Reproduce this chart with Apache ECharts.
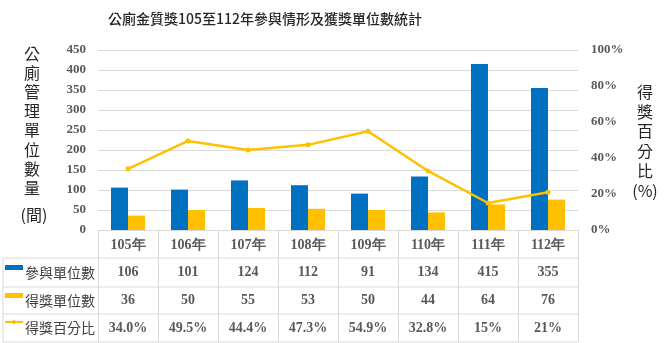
<!DOCTYPE html>
<html>
<head>
<meta charset="utf-8">
<script src="https://cdn.jsdelivr.net/npm/echarts@6/dist/echarts.min.js"></script>
<style>html,body{margin:0;padding:0;background:#fff}#c{width:668px;height:343px}</style>
</head>
<body>
<div id="c"></div>
<script>
const titleText = '公廁金質獎105至112年參與情形及獲獎單位數統計';
const categories = ['105年','106年','107年','108年','109年','110年','111年','112年'];
const participants = [106,101,124,112,91,134,415,355];
const winners = [36,50,55,53,50,44,64,76];
const winRate = [34.0,49.5,44.4,47.3,54.9,32.8,15,21];
const rateLabels = ['34.0%','49.5%','44.4%','47.3%','54.9%','32.8%','15%','21%'];
const seriesNames = ['參與單位數','得獎單位數','得獎百分比'];
const leftAxisTitle = ['公','廁','管','理','單','位','數','量'];
const leftAxisUnit = '(間)';
const rightAxisTitle = ['得','獎','百','分','比','(%)'];

const BLUE = '#0070C0', GOLD = '#FFC000', GRID = '#d9d9d9', TXT = '#595959';
const SERIF = 'Liberation Serif';
const SANS = '"Noto Sans CJK TC","Noto Sans",sans-serif';

const chart = echarts.init(document.getElementById('c'));
chart.setOption({
  animation: false,
  grid: {left: 98, right: 90, top: 50, bottom: 113},
  xAxis: {
    type: 'category', data: categories,
    axisLine: {lineStyle: {color: GRID}},
    axisTick: {show: true, length: 112, interval: 0, lineStyle: {color: GRID}},
    axisLabel: {interval: 0, margin: 8, color: TXT, fontFamily: SERIF, fontWeight: 'bold', fontSize: 14}
  },
  yAxis: [
    {type: 'value', min: 0, max: 450, interval: 50,
     axisLine: {show: false}, axisTick: {show: false},
     splitLine: {lineStyle: {color: GRID}},
     axisLabel: {margin: 12, color: TXT, fontFamily: SERIF, fontWeight: 'bold', fontSize: 13}},
    {type: 'value', min: 0, max: 100, interval: 20,
     axisLine: {show: false}, axisTick: {show: false}, splitLine: {show: false},
     axisLabel: {margin: 13, formatter: '{value}%', color: TXT, fontFamily: SERIF, fontWeight: 'bold', fontSize: 13}}
  ],
  series: [
    {name: seriesNames[0], type: 'bar', data: participants, barWidth: 17, barGap: '0%', itemStyle: {color: BLUE}},
    {name: seriesNames[1], type: 'bar', data: winners, barWidth: 17, itemStyle: {color: GOLD}},
    {name: seriesNames[2], type: 'line', yAxisIndex: 1, data: winRate, symbol: 'circle', symbolSize: 5,
     lineStyle: {color: GOLD, width: 2.5}, itemStyle: {color: GOLD}}
  ]
});

const rowsY = [258, 287, 314, 342];
const rowCenters = [272.5, 300.5, 328];
const tableLeft = 3, tableRight = 578;
const g = [];
g.push({type: 'text', x: 265, y: 19, style: {text: titleText, textAlign: 'center', textVerticalAlign: 'middle', fill: '#262626', font: '500 14px ' + SANS}});
rowsY.forEach(y => g.push({type: 'line', shape: {x1: tableLeft, y1: y, x2: tableRight, y2: y}, style: {stroke: GRID, lineWidth: 1}}));
g.push({type: 'line', shape: {x1: tableLeft, y1: rowsY[0], x2: tableLeft, y2: rowsY[3]}, style: {stroke: GRID, lineWidth: 1}});
const rowData = [participants.map(String), winners.map(String), rateLabels];
rowData.forEach((row, r) => {
  row.forEach((v, i) => {
    const x = chart.convertToPixel({xAxisIndex: 0}, i);
    g.push({type: 'text', x: x, y: rowCenters[r], style: {text: v, textAlign: 'center', textVerticalAlign: 'middle', fill: TXT, font: 'bold 14px "Liberation Serif"'}});
  });
  g.push({type: 'text', x: 25, y: rowCenters[r], style: {text: seriesNames[r], textAlign: 'left', textVerticalAlign: 'middle', fill: '#404040', font: 'normal 14px ' + SANS}});
});
g.push({type: 'rect', shape: {x: 5, y: 265, width: 18, height: 5}, style: {fill: BLUE}});
g.push({type: 'rect', shape: {x: 5, y: 293, width: 18, height: 5}, style: {fill: GOLD}});
g.push({type: 'line', shape: {x1: 5, y1: 322, x2: 23, y2: 322}, style: {stroke: GOLD, lineWidth: 2}});
g.push({type: 'circle', shape: {cx: 14, cy: 322, r: 2}, style: {fill: GOLD}});
leftAxisTitle.forEach((ch, i) => g.push({type: 'text', x: 32, y: 54 + i * 19.1, style: {text: ch, textAlign: 'center', textVerticalAlign: 'middle', fill: '#262626', font: 'normal 16px ' + SANS}}));
g.push({type: 'text', x: 34, y: 215, style: {text: leftAxisUnit, textAlign: 'center', textVerticalAlign: 'middle', fill: '#262626', font: 'normal 16px ' + SANS}});
rightAxisTitle.forEach((ch, i) => g.push({type: 'text', x: 645, y: 92 + i * 19.7, style: {text: ch, textAlign: 'center', textVerticalAlign: 'middle', fill: '#262626', font: 'normal 16px ' + SANS}}));
chart.setOption({graphic: g});
</script>
</body>
</html>
